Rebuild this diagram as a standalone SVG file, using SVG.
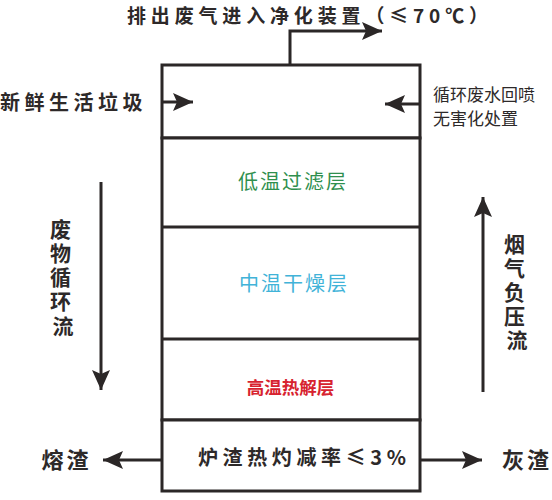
<svg xmlns="http://www.w3.org/2000/svg" width="552" height="500" viewBox="0 0 552 500">
  <style>
    .t { font-family: "Noto Sans CJK SC", "Noto Sans", sans-serif; fill: #2d2929; }
    .b { font-weight: bold; }
    .ln { stroke: #2b2727; stroke-width: 3; fill: none; }
    .box { stroke: #2b2727; stroke-width: 3; fill: #ffffff; }
  </style>
  <defs>
    <marker id="ah" markerUnits="userSpaceOnUse" markerWidth="21" markerHeight="18" refX="20" refY="9" orient="auto">
      <path d="M0,0 L20,9 L0,18 L4,9 Z" fill="#2b2727"/>
    </marker>
  </defs>
  <rect width="552" height="500" fill="#ffffff"/>

  <g id="furnace">
    <rect class="box" x="162" y="65" width="258" height="73"/>
    <rect class="box" x="162" y="138" width="258" height="282"/>
    <line class="ln" x1="162" y1="227" x2="420" y2="227"/>
    <line class="ln" x1="162" y1="339" x2="420" y2="339"/>
    <rect class="box" x="162" y="420" width="258" height="71"/>
  </g>

  <g id="layer-low">
    <text class="t" x="293" y="188.5" font-size="20" letter-spacing="2" text-anchor="middle" style="fill:#2f8f4e">低温过滤层</text>
  </g>
  <g id="layer-mid">
    <text class="t" x="294" y="290.5" font-size="20" letter-spacing="2" text-anchor="middle" style="fill:#41b3d8">中温干燥层</text>
  </g>
  <g id="layer-high">
    <text class="t b" x="290.5" y="393.5" font-size="17.5" text-anchor="middle" style="fill:#d7232f">高温热解层</text>
  </g>
  <g id="bottom-label">
    <text class="t b" x="198" y="464.5" font-size="20" textLength="208" lengthAdjust="spacing">炉渣热灼减率≤3%</text>
  </g>

  <g id="title">
    <text class="t b" x="127" y="22.5" font-size="19" textLength="361" lengthAdjust="spacing">排出废气进入净化装置（≤70℃）</text>
  </g>
  <g id="fresh-waste">
    <text class="t b" x="0" y="109.5" font-size="20" letter-spacing="4.5">新鲜生活垃圾</text>
  </g>
  <g id="recycle-water">
    <text class="t" x="433" y="101" font-size="17">循环废水回喷</text>
    <text class="t" x="433" y="124.5" font-size="17">无害化处置</text>
  </g>
  <g id="waste-flow">
    <text class="t b" font-size="21" text-anchor="middle">
      <tspan x="63" y="236.5">废</tspan>
      <tspan x="63" y="260.5">物</tspan>
      <tspan x="63" y="285">循</tspan>
      <tspan x="63" y="309">环</tspan>
      <tspan x="63" y="333.5">流</tspan>
    </text>
  </g>
  <g id="gas-flow">
    <text class="t b" font-size="21" text-anchor="middle">
      <tspan x="517" y="251.5">烟</tspan>
      <tspan x="517" y="275.5">气</tspan>
      <tspan x="517" y="299.5">负</tspan>
      <tspan x="517" y="324">压</tspan>
      <tspan x="517" y="348">流</tspan>
    </text>
  </g>
  <g id="slag">
    <text class="t b" x="66.5" y="468" font-size="22" letter-spacing="3" text-anchor="middle">熔渣</text>
  </g>
  <g id="ash">
    <text class="t b" x="527" y="468" font-size="22" letter-spacing="3" text-anchor="middle">灰渣</text>
  </g>

  <g id="connectors">
    <path class="ln" d="M290,65 V31 H382" marker-end="url(#ah)"/>
    <path class="ln" d="M162,102 H193" marker-end="url(#ah)"/>
    <path class="ln" d="M420,104 H385" marker-end="url(#ah)"/>
    <path class="ln" d="M101,182 V390" marker-end="url(#ah)"/>
    <path class="ln" d="M483,392 V197" marker-end="url(#ah)"/>
    <path class="ln" d="M162,460 H103" marker-end="url(#ah)"/>
    <path class="ln" d="M420,460 H482" marker-end="url(#ah)"/>
  </g>
</svg>
